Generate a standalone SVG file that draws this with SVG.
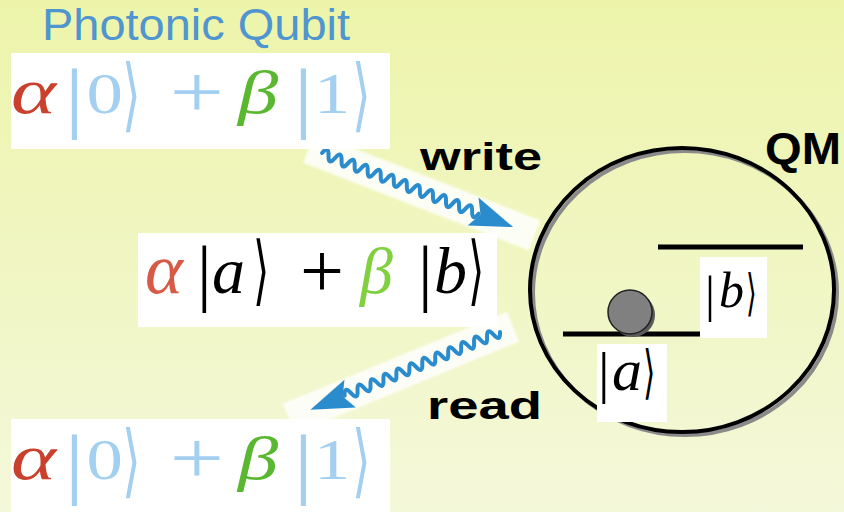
<svg xmlns="http://www.w3.org/2000/svg" width="844" height="512" viewBox="0 0 844 512">
<defs>
<linearGradient id="bg" x1="0" y1="0" x2="0" y2="1">
<stop offset="0" stop-color="#edf4aa"/>
<stop offset="1" stop-color="#f4f8da"/>
</linearGradient>
<filter id="soft" x="-10%" y="-30%" width="120%" height="160%"><feGaussianBlur stdDeviation="1.2"/></filter>
<style>
.lbl{font-family:"Liberation Sans",Arial,sans-serif;font-weight:bold;fill:#000}
.mi{font-family:"Liberation Serif","Times New Roman",serif;font-style:italic}
.rm{font-family:"Liberation Serif","Times New Roman",serif}
.br{font-family:"DejaVu Sans",sans-serif}
.lb{fill:#a3cff0}
.red{fill:#c9402c}
.grn{fill:#5ab830}
.box{fill:#fff}
.wave{fill:none;stroke:#2a8ccc;stroke-width:4;stroke-linecap:round;stroke-linejoin:round}
.head{fill:#2a8ccc}
.strip{fill:#fff;opacity:0.85}
</style>
</defs>
<rect width="844" height="512" fill="url(#bg)"/>

<g id="title">
<text x="42" y="40" font-family="Liberation Sans,Arial,sans-serif" font-size="44" fill="#4f95cf" textLength="308" lengthAdjust="spacingAndGlyphs">Photonic Qubit</text>
</g>

<g id="connectors">
<g id="write-arrow" transform="translate(322,153) rotate(21.18)">
<rect class="strip" x="-14" y="-16" width="242" height="32" filter="url(#soft)"/>
<path class="wave" d="M0,0 q3.5,-10 7,0 t7,0 t7,0 t7,0 t7,0 t7,0 t7,0 t7,0 t7,0 t7,0 t7,0 t7,0 t7,0 t7,0 t7,0 t7,0 t7,0 t7,0 t7,0 t7,0 t7,0 t7,0 t7,0 t7,0"/>
<polygon class="head" points="205,0 162,-15 170,0 162,15"/>
</g>
<g id="read-arrow" transform="translate(500,332) rotate(157.68)">
<rect class="strip" x="-14" y="-16" width="242" height="32" filter="url(#soft)"/>
<path class="wave" d="M0,0 q3.5,-10 7,0 t7,0 t7,0 t7,0 t7,0 t7,0 t7,0 t7,0 t7,0 t7,0 t7,0 t7,0 t7,0 t7,0 t7,0 t7,0 t7,0 t7,0 t7,0 t7,0 t7,0 t7,0 t7,0 t7,0"/>
<polygon class="head" points="205,0 162,-15 170,0 162,15"/>
</g>
<text class="lbl" x="420" y="170" font-size="38" textLength="122" lengthAdjust="spacingAndGlyphs">write</text>
<text class="lbl" x="427" y="419" font-size="38" textLength="115" lengthAdjust="spacingAndGlyphs">read</text>
</g>

<g id="photonic-qubit-in">
<rect class="box" x="11" y="53" width="379" height="96"/>
<g transform="scale(1.3,1)">
<text font-size="62"><tspan class="mi red" x="8.5" y="113" font-size="66">α</tspan><tspan class="rm lb" x="49.5" y="123" font-size="78">|</tspan><tspan class="rm lb" x="66.5" y="113" font-size="56">0</tspan><tspan class="rm lb" x="130.5" y="117" font-size="74">+</tspan><tspan class="mi grn" x="183" y="113">β</tspan><tspan class="rm lb" x="225.5" y="123" font-size="78">|</tspan><tspan class="rm lb" x="241.5" y="113" font-size="56">1</tspan></text>
</g>
<text class="br lb" transform="translate(122,0) scale(0.6,1)" y="122" font-size="80">⟩</text>
<text class="br lb" transform="translate(352,0) scale(0.6,1)" y="122" font-size="80">⟩</text>
</g>

<g id="memory-state">
<rect class="box" x="138" y="233" width="359" height="94"/>
<text font-size="66"><tspan class="mi" x="145" y="293" font-size="72" fill="#d65a45">α</tspan><tspan class="rm" x="197" y="297" font-size="73" fill="#000">|</tspan><tspan class="mi" x="212" y="293" fill="#000">a</tspan><tspan class="rm" x="300" y="297" font-size="78" fill="#000">+</tspan><tspan class="mi" x="360" y="293" fill="#80d040">β</tspan><tspan class="rm" x="418" y="297" font-size="73" fill="#000">|</tspan><tspan class="mi" x="434" y="293" fill="#000">b</tspan></text>
<text class="br" transform="translate(253,0) scale(0.55,1)" y="296" font-size="76" fill="#000">⟩</text>
<text class="br" transform="translate(468,0) scale(0.55,1)" y="296" font-size="76" fill="#000">⟩</text>
</g>

<g id="photonic-qubit-out">
<rect class="box" x="11" y="419" width="379" height="93"/>
<g transform="scale(1.3,1)">
<text font-size="62"><tspan class="mi red" x="8.5" y="479" font-size="66">α</tspan><tspan class="rm lb" x="49.5" y="489" font-size="78">|</tspan><tspan class="rm lb" x="66.5" y="479" font-size="56">0</tspan><tspan class="rm lb" x="130.5" y="483" font-size="74">+</tspan><tspan class="mi grn" x="183" y="479">β</tspan><tspan class="rm lb" x="225.5" y="489" font-size="78">|</tspan><tspan class="rm lb" x="241.5" y="479" font-size="56">1</tspan></text>
</g>
<text class="br lb" transform="translate(122,0) scale(0.6,1)" y="488" font-size="80">⟩</text>
<text class="br lb" transform="translate(352,0) scale(0.6,1)" y="488" font-size="80">⟩</text>
</g>

<g id="quantum-memory">
<ellipse cx="685" cy="293" rx="152" ry="142" fill="none" stroke="#8a8a8a" stroke-width="4"/>
<ellipse cx="682" cy="290" rx="152" ry="142" fill="none" stroke="#000" stroke-width="4"/>
<line x1="658" y1="247" x2="803" y2="247" stroke="#000" stroke-width="5"/>
<line x1="563" y1="334" x2="700" y2="334" stroke="#000" stroke-width="5"/>
<circle cx="633" cy="315" r="22" fill="#5a5a5a"/>
<circle cx="630" cy="312" r="22" fill="#808080" stroke="#222" stroke-width="1.5"/>
<rect class="box" x="700" y="257" width="67" height="81"/>
<text font-size="50"><tspan class="rm" x="705" y="311">|</tspan><tspan class="mi" x="719" y="307">b</tspan></text>
<text class="br" transform="translate(746,0) scale(0.55,1)" y="310" font-size="50">⟩</text>
<rect class="box" x="597" y="344" width="70" height="78"/>
<text font-size="60"><tspan class="rm" x="598" y="392" font-size="58">|</tspan><tspan class="mi" x="612" y="390">a</tspan></text>
<text class="br" transform="translate(643,0) scale(0.55,1)" y="392" font-size="58">⟩</text>
<text class="lbl" x="765" y="164" font-size="44" textLength="76" lengthAdjust="spacingAndGlyphs">QM</text>
</g>
</svg>
